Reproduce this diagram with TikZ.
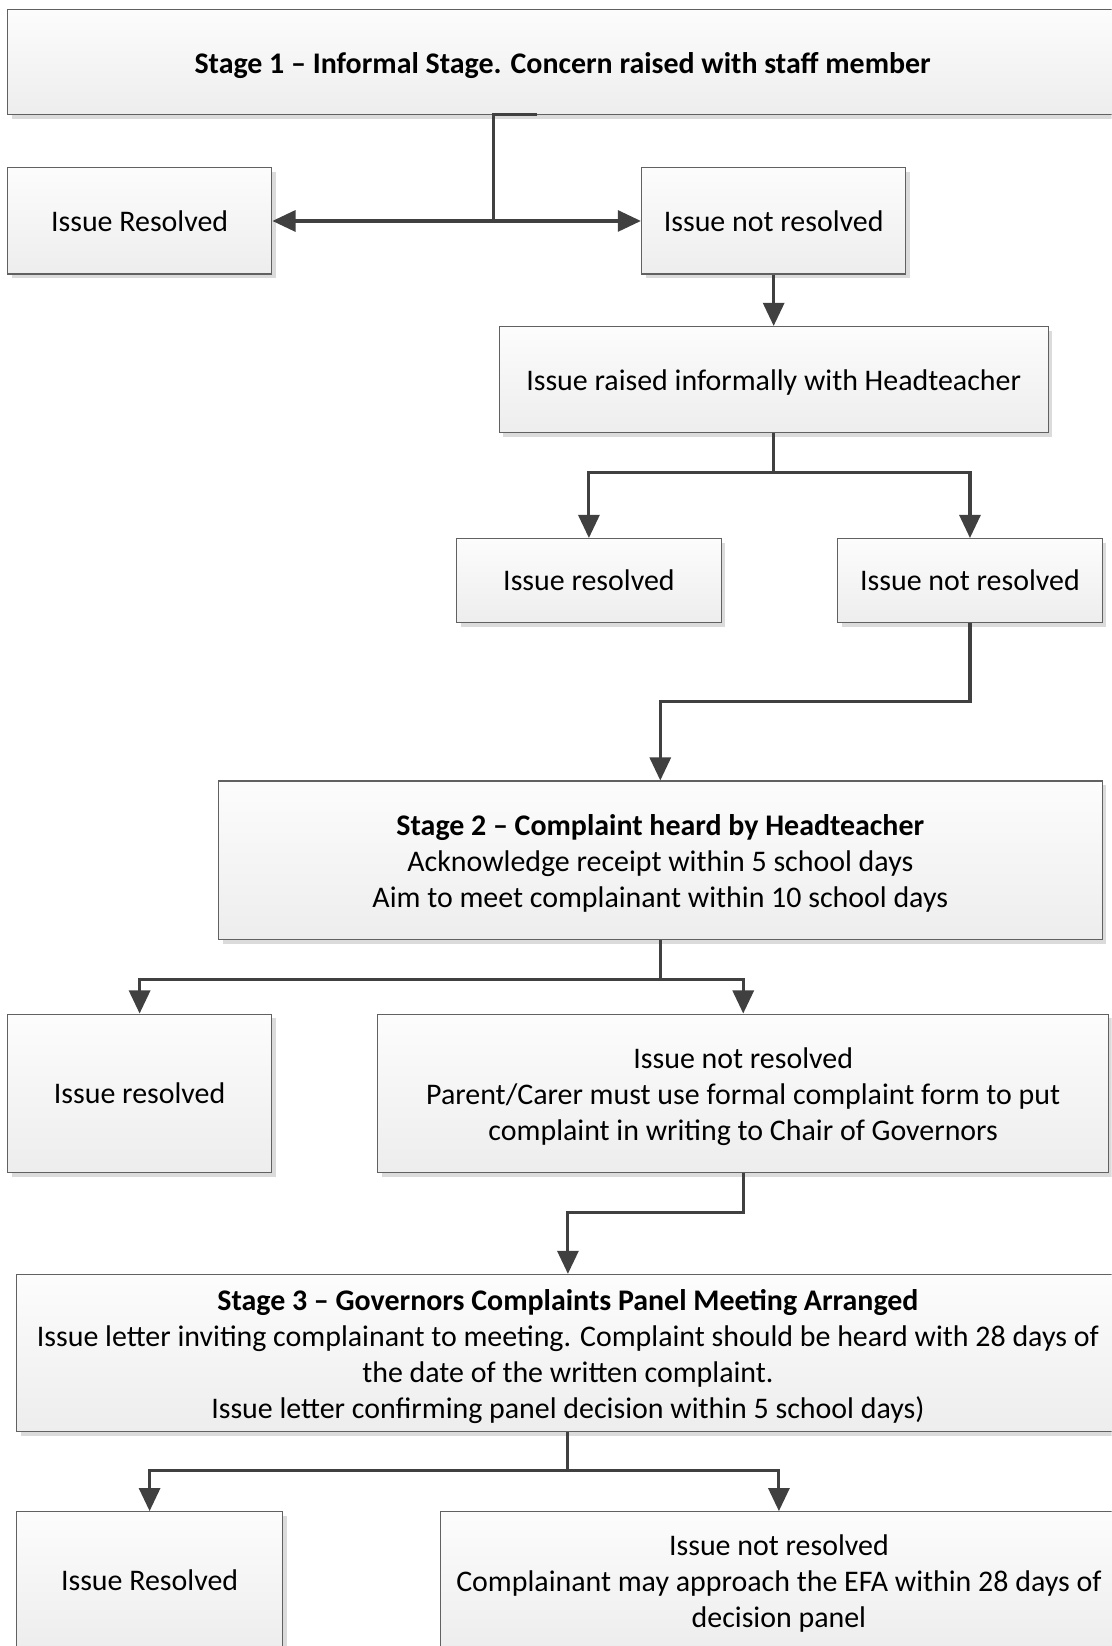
\documentclass[tikz,border=0pt]{standalone}
\usepackage{fontspec}
\setmainfont{Carlito}
\usetikzlibrary{arrows.meta,shadows}
\newcommand{\toplift}{\rule{0pt}{26pt}}
\begin{document}
\begin{tikzpicture}[x=1pt,y=-1pt,
  box/.style={draw=black!62, line width=1pt, top color=black!1, bottom color=black!7,
    drop shadow={shadow xshift=4pt, shadow yshift=-4pt, fill=black!14, opacity=1},
    inner sep=0pt, align=center, font=\fontsize{28.5}{34.3}\selectfont},
  line/.style={draw=black!75, line width=3pt},
  arr/.style={line, -{Triangle[length=22pt,width=20pt]}}]
\clip (0,0) rectangle (1059,1568);
\fill[white] (0,0) rectangle (1059,1568);
% boxes
\node[box, minimum width=1058, minimum height=100] (top) at (536,59) {\toplift\bfseries Stage 1 -- Informal Stage. Concern raised with staff member};
\node[box, minimum width=252, minimum height=101] (r1) at (133,210.5) {Issue Resolved};
\node[box, minimum width=252, minimum height=101] (n1) at (737,210.5) {Issue not resolved};
\node[box, minimum width=523, minimum height=101] (raised) at (737,361.5) {\toplift Issue raised informally with Headteacher};
\node[box, minimum width=252, minimum height=80] (r2) at (561,553) {Issue resolved};
\node[box, minimum width=252, minimum height=80] (n2) at (924,553) {Issue not resolved};
\node[box, minimum width=842, minimum height=151] (s2) at (629,819.5) {\toplift{\bfseries Stage 2 -- Complaint heard by Headteacher}\\Acknowledge receipt within 5 school days\\Aim to meet complainant within 10 school days};
\node[box, minimum width=252, minimum height=151] (r3) at (133,1041.5) {Issue resolved};
\node[box, minimum width=696, minimum height=151] (n3) at (708,1041.5) {\toplift Issue not resolved\\Parent/Carer must use formal complaint form to put\\complaint in writing to Chair of Governors};
\node[box, minimum width=1050, minimum height=150] (s3) at (541,1289) {\toplift{\bfseries Stage 3 -- Governors Complaints Panel Meeting Arranged}\\Issue letter inviting complainant to meeting. Complaint should be heard with 28 days of\\the date of the written complaint.\\Issue letter confirming panel decision within 5 school days)};
\node[box, minimum width=253, minimum height=130] (r4) at (142.5,1505) {Issue Resolved};
\node[box, minimum width=644, minimum height=130] (n4) at (742,1505) {\toplift Issue not resolved\\Complainant may approach the EFA within 28 days of\\decision panel};
% connectors
\coordinate (a0) at (512,109);
\coordinate (j1) at (470,210.5);
\draw[line] (a0) -| (j1);
\draw[arr] (j1) -- (r1.east);
\draw[arr] (j1) -- (n1.west);
\draw[arr] (n1.south) -- (n1.south |- raised.north);
\coordinate (j2) at (737,450);
\draw[line] (raised.south) -- (j2);
\draw[arr] (j2) -| (r2.north);
\draw[arr] (j2) -| (n2.north);
\coordinate (j3) at (629,668);
\draw[arr] (n2.south) |- (j3) -- (s2.north);
\coordinate (j4) at (629,933);
\draw[line] (s2.south) -- (j4);
\draw[arr] (j4) -| (r3.north);
\draw[arr] (j4) -| (n3.north);
\coordinate (j5) at (541,1155);
\draw[arr] (n3.south) |- (j5) -- (s3.north);
\coordinate (j6) at (541,1401);
\draw[line] (s3.south) -- (j6);
\draw[arr] (j6) -| (r4.north);
\draw[arr] (j6) -| (n4.north);
\end{tikzpicture}
\end{document}
